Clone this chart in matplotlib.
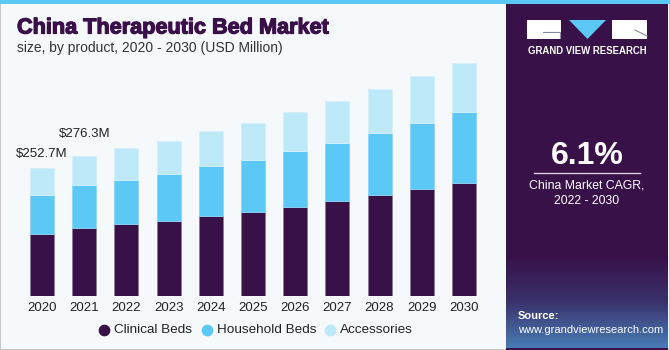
import numpy as np
import matplotlib
matplotlib.use("Agg")
import matplotlib.pyplot as plt
import matplotlib.patheffects as pe
from matplotlib.patches import Rectangle, Polygon

years = ["2020", "2021", "2022", "2023", "2024", "2025", "2026", "2027", "2028", "2029", "2030"]
clinical = [121.6, 134.0, 141.2, 148.3, 157.6, 165.5, 175.3, 186.5, 198.4, 210.2, 223.2]
household = [77.0, 84.1, 87.9, 92.6, 98.5, 103.0, 109.7, 115.5, 122.7, 131.2, 138.7]
accessories = [54.1, 58.2, 62.4, 64.4, 69.0, 71.7, 76.8, 81.6, 86.1, 92.0, 97.7]
total_labels = ["$252.7M", "$276.3M"]

C_CLIN = "#371148"
C_HOUSE = "#5bc8f5"
C_ACC = "#bde9f9"
BG = "#f5f9fc"
PANEL = "#381149"

W, H = 670, 350
plt.rcParams["font.family"] = ["Liberation Sans", "DejaVu Sans"]

fig = plt.figure(figsize=(W / 100, H / 100), dpi=100)
fig.patch.set_facecolor(BG)

# pixel-space overlay for frame, panel, titles, legend
bg = fig.add_axes([0, 0, 1, 1], zorder=0)
bg.axis("off")
bg.add_patch(Rectangle((0, 0), W, H, facecolor=BG, edgecolor="#c8c8c8", lw=1.5))
bg.add_patch(Rectangle((506, 0), 162, H, facecolor=PANEL, edgecolor="none"))
grad = np.linspace(0, 1, 100)[:, None]
cmap = matplotlib.colors.LinearSegmentedColormap.from_list("g", [PANEL, "#3b3670", "#4a88c2"])
bg.imshow(grad, extent=(506, 668, 348, 255), cmap=cmap, aspect="auto", alpha=0.9, zorder=1)
bg.add_patch(Rectangle((0, 0), W, 4, facecolor=C_HOUSE, edgecolor="none", zorder=2))
bg.set_xlim(0, W); bg.set_ylim(H, 0)

# logo
bg.add_patch(Rectangle((527, 20), 34, 19, facecolor="white", edgecolor="none", zorder=3))
bg.plot([543, 560, 560], [31.5, 31.5, 38], color="#8a8a9a", lw=0.8, zorder=4)
bg.add_patch(Polygon([(569, 20), (606, 20), (587.5, 39)], closed=True, facecolor=C_HOUSE,
                     edgecolor="none", zorder=3))
bg.add_patch(Rectangle((612, 20), 35, 19, facecolor="white", edgecolor="none", zorder=3))
bg.plot([635, 647], [30, 36], color="#8a8a9a", lw=0.8, zorder=4)
bg.text(587, 51, "GRAND VIEW RESEARCH", color="white", fontsize=6.9, fontweight="bold",
        ha="center", va="center", zorder=4)

# CAGR block
bg.text(587, 156, "6.1%", color="white", fontsize=23, fontweight="bold", ha="center", va="center", zorder=4)
bg.plot([534, 640], [173, 173], color="#d8d0e0", lw=1, zorder=4)
bg.text(587, 185, "China Market CAGR,", color="white", fontsize=8.8, ha="center", va="center", zorder=4)
bg.text(587, 201, "2022 - 2030", color="white", fontsize=8.8, ha="center", va="center", zorder=4)
bg.text(518, 316, "Source:", color="white", fontsize=8, fontweight="bold", ha="left", va="center", zorder=4)
bg.text(518, 330, "www.grandviewresearch.com", color="white", fontsize=8, ha="left", va="center", zorder=4)

# titles
bg.text(17, 28, "China Therapeutic Bed Market", color="#3a1048", fontsize=15.6, fontweight="bold",
        ha="left", va="center", zorder=4,
        path_effects=[pe.withStroke(linewidth=0.9, foreground="#3a1048")])
bg.text(17, 48, "size, by product, 2020 - 2030 (USD Million)", color="#333333", fontsize=10,
        ha="left", va="center", zorder=4)

# bar chart
ax = fig.add_axes([21 / W, 1 - 296 / H, 464 / W, 236 / H], zorder=2)
ax.set_facecolor("none")
x = np.arange(len(years))
bw = 0.57
clin = np.array(clinical)
hous = np.array(household)
acc = np.array(accessories)
ax.bar(x, clin, bw, color=C_CLIN, edgecolor="#8a7a96", linewidth=0.6, label="Clinical Beds")
ax.bar(x, hous, bw, bottom=clin, color=C_HOUSE, edgecolor="#8fd3f0", linewidth=0.6, label="Household Beds")
ax.bar(x, acc, bw, bottom=clin + hous, color=C_ACC, edgecolor="#d5f0fb", linewidth=0.6, label="Accessories")
ax.set_xlim(-0.5, len(years) - 0.5)
ax.set_ylim(0, 236 * 1.97)
gaps_px = [14, 22]
for i, txt in enumerate(total_labels):
    tot = clin[i] + hous[i] + acc[i]
    ax.annotate(txt, (i, tot), xytext=(0, gaps_px[i] * 0.72), textcoords="offset points",
                ha="center", va="center", fontsize=9.5, color="#222222")
ax.set_xticks(x)
ax.set_xticklabels(years, fontsize=9.5, color="#222222")
ax.tick_params(axis="x", length=0, pad=4)
ax.set_yticks([])
for s in ax.spines.values():
    s.set_visible(False)

# legend
for lx, col, lab in [(104, C_CLIN, "Clinical Beds"), (207, C_HOUSE, "Household Beds"), (330, C_ACC, "Accessories")]:
    bg.scatter([lx], [330], s=55, color=col, zorder=4)
    bg.text(lx + 10, 330, lab, fontsize=9.7, color="#222222", ha="left", va="center", zorder=4)

fig.savefig("out.png", dpi=100, facecolor=BG)
